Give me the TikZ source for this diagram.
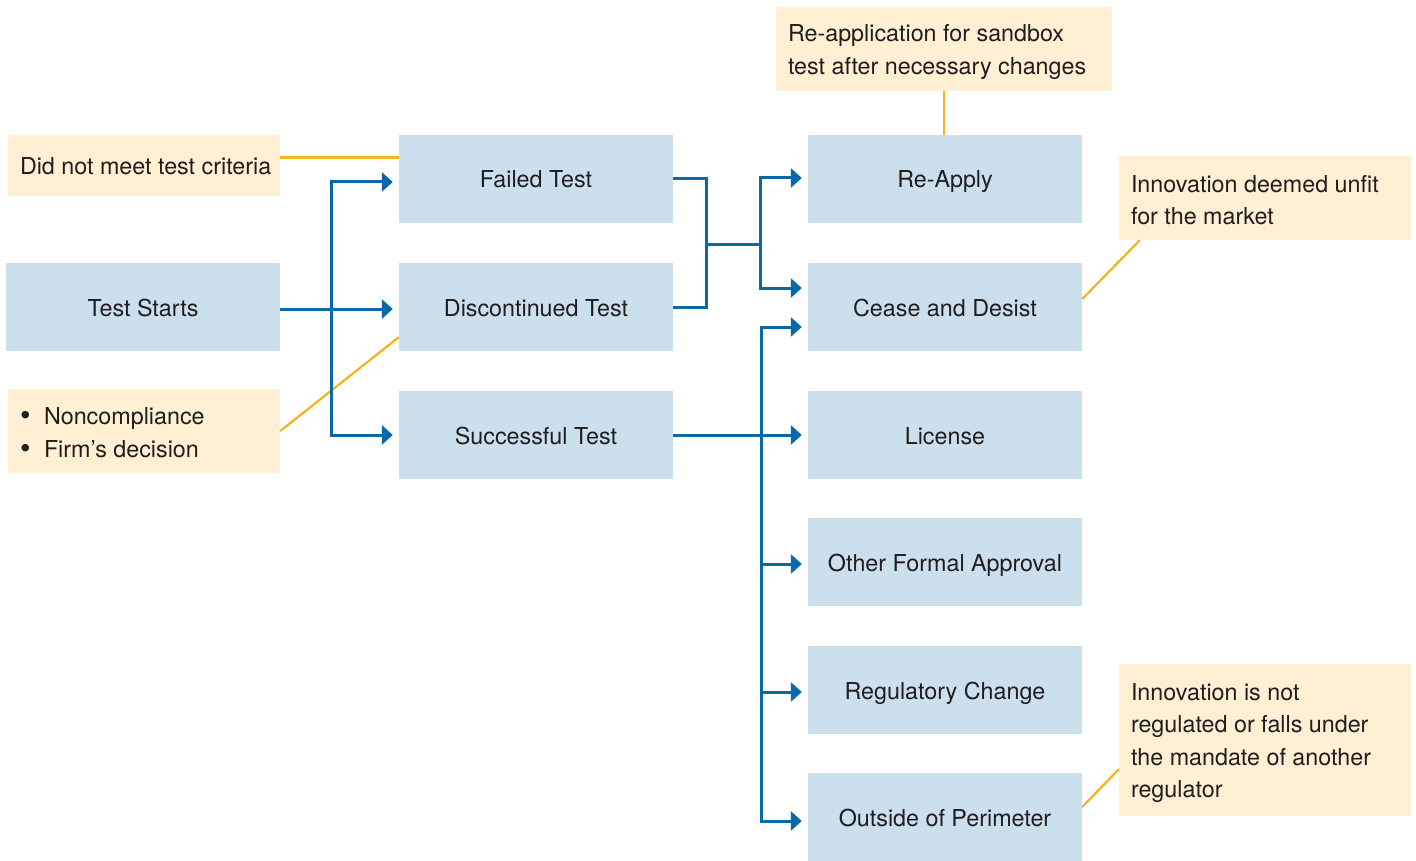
\documentclass[tikz,border=0pt]{standalone}
\usepackage{fontspec}
\setmainfont{TeX Gyre Heros}
\usetikzlibrary{arrows.meta,calc}
\definecolor{boxblue}{HTML}{CCDFEC}
\definecolor{noteyellow}{HTML}{FFEFD3}
\definecolor{linkblue}{HTML}{0B68A6}
\definecolor{linkyellow}{HTML}{F6B21B}
\definecolor{textgray}{HTML}{1E1E1E}
\newcommand{\itembullet}{\makebox[24pt][l]{\raisebox{-1pt}{\fontsize{30}{30}\selectfont\textbullet}}}
\begin{document}
\begin{tikzpicture}[x=1pt,y=-1pt,
  every node/.style={font=\fontsize{23.3}{32.4}\selectfont, text=textgray},
  stagebox/.style={fill=boxblue, minimum width=274pt, minimum height=88pt, inner sep=0pt,
    text height=20pt, text depth=2pt},
  notebox/.style={fill=noteyellow, inner sep=0pt},
  notetext/.style={align=left, inner sep=0pt},
  flow/.style={draw=linkblue, line width=3pt},
  flowarrow/.style={flow, -{Triangle[length=11pt,width=19pt]}, shorten >=6pt},
  remark/.style={draw=linkyellow, line width=2.2pt}]
\useasboundingbox (0,0) rectangle (1416,861);

% stages
\node[stagebox] (start)   at (143,307) {Test Starts};
\node[stagebox] (failed)  at (536,179) {Failed Test};
\node[stagebox] (disc)    at (536,307) {Discontinued Test};
\node[stagebox] (succ)    at (536,435) {Successful Test};
\node[stagebox] (reapply) at (945,179) {Re-Apply};
\node[stagebox] (cease)   at (945,307) {Cease and Desist};
\node[stagebox] (license) at (945,435) {License};
\node[stagebox] (other)   at (945,562) {Other Formal Approval};
\node[stagebox] (reg)     at (945,690) {Regulatory Change};
\node[stagebox] (outside) at (945,817) {Outside of Perimeter};

% annotations: yellow panels, then their text
\node[notebox, minimum width=272pt, minimum height=61pt] (ncrit) at (144,165.5) {};
\node[notebox, minimum width=272pt, minimum height=84pt] (nbul) at (144,431) {};
\node[notebox, minimum width=336pt, minimum height=84pt] (nreapp) at (944,49) {};
\node[notebox, minimum width=292pt, minimum height=84pt] (nunfit) at (1265,198) {};
\node[notebox, minimum width=292pt, minimum height=152pt] (nout) at (1265,740) {};

\node[notetext, anchor=west] at ([xshift=12pt,yshift=-1pt]ncrit.west) {Did not meet test criteria};
\node[notetext, anchor=west] at ([xshift=12pt,yshift=-2pt]nbul.west)
  {\itembullet Noncompliance\\\itembullet Firm’s decision};
\node[notetext, anchor=west] at ([xshift=12pt,yshift=-3pt]nreapp.west)
  {Re-application for sandbox\\test after necessary changes};
\node[notetext, anchor=west] at ([xshift=12pt,yshift=-2pt]nunfit.west)
  {Innovation deemed unfit\\for the market};
\node[notetext, anchor=west] at ([xshift=12pt,yshift=-3pt]nout.west)
  {Innovation is not\\regulated or falls under\\the mandate of another\\regulator};

% annotation leaders
\draw[remark] ([yshift=8pt]ncrit.east) -- ([yshift=8pt]ncrit.east -| failed.west);
\draw[remark] (nbul.east) -- ([yshift=14pt]disc.south west);
\draw[remark] (nreapp.south) -- (nreapp.south |- reapply.north);
\draw[remark] ([yshift=8pt]cease.east) -- ([xshift=21pt]nunfit.south west);
\draw[remark] ([yshift=10pt]outside.east) -- ([yshift=47pt]nout.south west);

% from the start of the test
\coordinate (split) at (331,309);
\draw[flowarrow] ([yshift=-2pt]start.east) -- ([yshift=-2pt]disc.west);
\draw[flowarrow] (split) |- ([yshift=-3pt]failed.west);
\draw[flowarrow] (split) |- (succ.west);

% failed or discontinued tests
\coordinate (merge) at (706,244);
\coordinate (fork) at (760,244);
\draw[flow] (failed.east) -| (merge) |- (disc.east);
\draw[flow] (merge) -- (fork);
\draw[flowarrow] (fork) |- ([yshift=1pt]reapply.west);
\draw[flowarrow] (fork) |- ([yshift=19pt]cease.west);

% successful tests
\coordinate (hub) at (761,435);
\draw[flowarrow] (succ.east) -- (license.west);
\draw[flowarrow] (hub) |- ([yshift=-20pt]cease.west);
\draw[flowarrow] (hub) |- ([yshift=-2pt]other.west);
\draw[flowarrow] (hub) |- ([yshift=-2pt]reg.west);
\draw[flowarrow] (hub) |- ([yshift=-4pt]outside.west);
\end{tikzpicture}
\end{document}
